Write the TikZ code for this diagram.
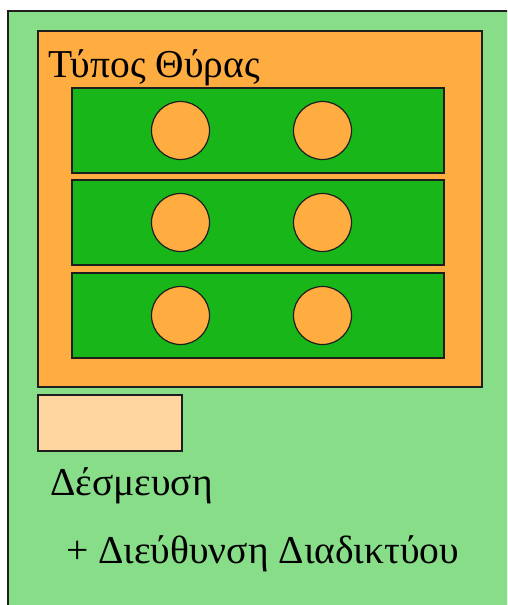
\documentclass[tikz,border=0pt]{standalone}
\usepackage{fontspec}
\setmainfont{Liberation Serif}
\definecolor{bgGreen}{RGB}{136,222,136}
\definecolor{portOrange}{RGB}{255,173,64}
\definecolor{stripGreen}{RGB}{24,182,24}
\definecolor{peach}{RGB}{255,214,160}
\definecolor{edge}{RGB}{30,30,30}
\begin{document}
\begin{tikzpicture}[x=1pt,y=-1pt,
  box/.style={draw=edge,line width=1.6pt},
  strip/.style={box,fill=stripGreen},
  hole/.style={box,fill=portOrange,line width=1.2pt},
  lbl/.style={anchor=base west,inner sep=0pt,font=\fontsize{39.5}{46}\selectfont}]
\useasboundingbox (0,0) rectangle (507,605);
\clip (0,0) rectangle (507,605);
\fill[white] (0,0) rectangle (507,605);
\draw[draw=edge,line width=1.6pt,fill=bgGreen] (8,11) rectangle (520,620);
\draw[box,fill=portOrange] (38,31) rectangle (482,387);
\node[lbl] (title) at (48,77) {Τύπος Θύρας};
\foreach \t/\b/\c in {88/173/130.5, 180/265/222.5, 273/358/315.5}{
  \draw[strip] (72,\t) rectangle (444,\b);
  \draw[hole] (180.5,\c) circle (29);
  \draw[hole] (322.5,\c) circle (29);
}
\draw[box,fill=peach] (38,395) rectangle (182,451);
\node[lbl] (bind) at (50,495) {Δέσμευση};
\node[lbl] (addr) at (66,563) {+ Διεύθυνση Διαδικτύου};
\end{tikzpicture}
\end{document}
